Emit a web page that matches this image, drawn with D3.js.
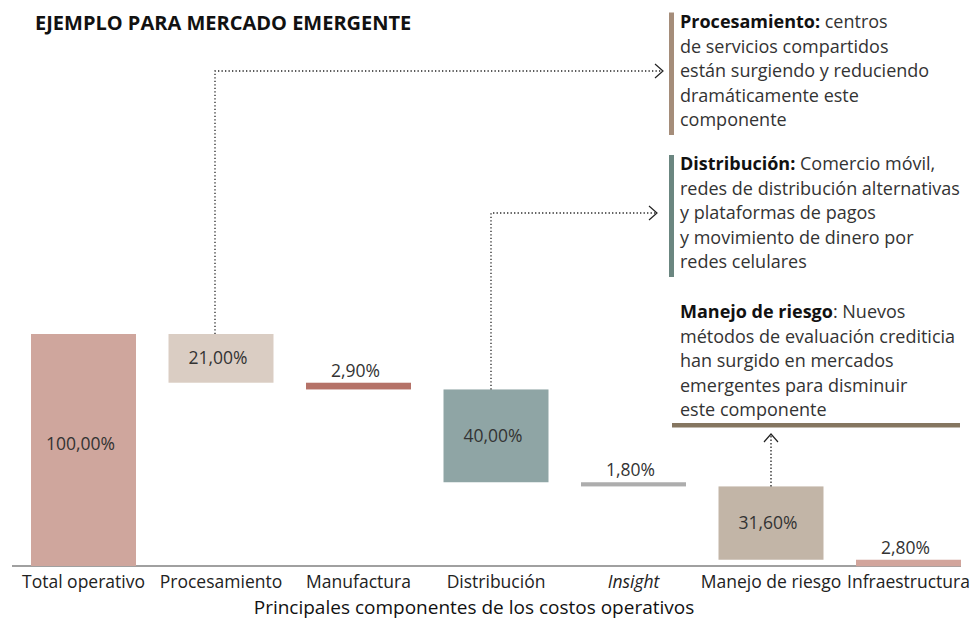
<!DOCTYPE html>
<html>
<head>
<meta charset="utf-8">
<script src="https://cdn.jsdelivr.net/npm/d3@7"></script>
<style>
  body { margin: 0; background: #fff; }
  text { font-family: "Open Sans", sans-serif; }
</style>
</head>
<body>
<div id="chart"></div>
<script>
// data
var categories = ["Total operativo", "Procesamiento", "Manufactura", "Distribución", "Insight", "Manejo de riesgo", "Infraestructura"];
var values = [100, 21.0, 2.9, 40.0, 1.8, 31.6, 2.8];
var barColors = ["#cfa69d", "#dacdc3", "#b57268", "#8fa5a5", "#adadad", "#c2b5a7", "#d2a59c"];

var notaProcesamiento = ["Procesamiento:", " centros", "de servicios compartidos", "están surgiendo y reduciendo", "dramáticamente este", "componente"];
var notaDistribucion = ["Distribución:", " Comercio móvil,", "redes de distribución alternativas", "y plataformas de pagos", "y movimiento de dinero por", "redes celulares"];
var notaRiesgo = ["Manejo de riesgo", ": Nuevos", "métodos de evaluación crediticia", "han surgido en mercados", "emergentes para disminuir", "este componente"];

var svgWidth = 975;
var svgHeight = 619;

var svg = d3.select("#chart")
  .append("svg")
  .attr("width", svgWidth)
  .attr("height", svgHeight);

// waterfall steps
var running = 0;
var bars = categories.map(function(c, i) {
  var b;
  if (i === 0) {
    b = { cat: c, v: values[i], top: values[i], bottom: 0 };
    running = values[i];
  } else {
    b = { cat: c, v: values[i], top: running, bottom: running - values[i] };
    running -= values[i];
  }
  b.color = barColors[i];
  return b;
});

var x = d3.scaleBand()
  .domain(categories)
  .range([14.75, 977.25])
  .paddingInner(0.2364)
  .paddingOuter(0.1182);

var y = d3.scaleLinear()
  .domain([0, 100])
  .range([566, 334]);

var bw = x.bandwidth();
var locale = d3.formatLocale({ decimal: ",", thousands: ".", grouping: [3], currency: ["", "€"] });
var fmt = locale.format(".2f");

// title
svg.append("text")
  .attr("x", 35)
  .attr("y", 30)
  .attr("font-size", "20px")
  .attr("font-weight", "bold")
  .attr("fill", "#111")
  .text("EJEMPLO PARA MERCADO EMERGENTE");

// axis line
svg.append("line")
  .attr("x1", 12)
  .attr("x2", x(categories[categories.length - 1]) + bw)
  .attr("y1", y(0))
  .attr("y2", y(0))
  .attr("stroke", "#808080")
  .attr("stroke-width", 1.6);

// bars
svg.selectAll("rect.bar")
  .data(bars)
  .enter()
  .append("rect")
  .attr("class", "bar")
  .attr("x", d => x(d.cat))
  .attr("width", bw)
  .attr("y", d => y(d.top))
  .attr("height", d => y(d.bottom) - y(d.top))
  .attr("fill", d => d.color);

// value labels
svg.selectAll("text.val")
  .data(bars)
  .enter()
  .append("text")
  .attr("class", "val")
  .attr("x", d => x(d.cat) + bw / 2 - 3)
  .attr("y", function(d) {
    var h = y(d.bottom) - y(d.top);
    if (d.v === 100) return (y(d.top) + y(d.bottom)) / 2;
    return h > 30 ? (y(d.top) + y(d.bottom)) / 2 + 6 : y(d.top) - 6;
  })
  .attr("text-anchor", "middle")
  .attr("font-size", "17.5px")
  .attr("fill", "#333")
  .text(d => fmt(d.v) + "%");

// category axis
var bottomAxis = d3.axisBottom(x).tickSize(0).tickPadding(10);
var axisG = svg.append("g")
  .attr("transform", `translate(0, ${y(0)})`)
  .call(bottomAxis);
axisG.select(".domain").remove();
axisG.selectAll("text")
  .attr("font-family", "Open Sans, sans-serif")
  .attr("font-size", "17.5px")
  .attr("fill", "#222")
  .attr("font-style", d => d === "Insight" ? "italic" : "normal");

svg.append("text")
  .attr("x", 474)
  .attr("y", 614)
  .attr("text-anchor", "middle")
  .attr("font-size", "19px")
  .attr("fill", "#111")
  .text("Principales componentes de los costos operativos");

// notes
var lineH = 24.5;
function drawNote(lines, x0, y0) {
  var t = svg.append("text")
    .attr("x", x0)
    .attr("y", y0)
    .attr("font-size", "18px")
    .attr("fill", "#333");
  var first = t.append("tspan").attr("x", x0).attr("y", y0);
  first.append("tspan").attr("font-weight", "bold").attr("fill", "#111").text(lines[0]);
  first.append("tspan").text(lines[1]);
  lines.slice(2).forEach(function(l, i) {
    t.append("tspan").attr("x", x0).attr("y", y0 + (i + 1) * lineH).text(l);
  });
}

var noteX = 680;
var procY = 28, distY = 170, riesgoY = 318;

svg.append("rect").attr("x", 669).attr("y", 12.5).attr("width", 5).attr("height", 122.5).attr("fill", "#a58d7a");
svg.append("rect").attr("x", 669).attr("y", 155).attr("width", 5).attr("height", 122).attr("fill", "#6b8680");
svg.append("rect").attr("x", 672).attr("y", 423).attr("width", 288).attr("height", 4.5).attr("fill", "#857660");

drawNote(notaProcesamiento, noteX, procY);
drawNote(notaDistribucion, noteX, distY);
drawNote(notaRiesgo, noteX, riesgoY);

// connectors
function connector(pts, head) {
  svg.append("path")
    .attr("d", d3.line()(pts))
    .attr("fill", "none")
    .attr("stroke", "#222")
    .attr("stroke-width", 1.3)
    .attr("stroke-dasharray", "1.3,2.2");
  svg.append("path")
    .attr("d", d3.line()(head))
    .attr("fill", "none")
    .attr("stroke", "#222")
    .attr("stroke-width", 1.2);
}

var bProc = bars[1], bDist = bars[3], bRiesgo = bars[5];
var pxProc = x(bProc.cat) + bw / 2 - 6;
var pyProc = procY - 6 + 2 * lineH;
connector([[pxProc, y(bProc.top)], [pxProc, pyProc], [662, pyProc]],
  [[655, pyProc - 7], [663, pyProc], [655, pyProc + 7]]);

var pxDist = x(bDist.cat) + bw / 2 - 5;
var pyDist = distY - 6 + 2 * lineH;
connector([[pxDist, y(bDist.top)], [pxDist, pyDist], [656, pyDist]],
  [[649, pyDist - 7], [657, pyDist], [649, pyDist + 7]]);

var pxRiesgo = x(bRiesgo.cat) + bw / 2;
connector([[pxRiesgo, y(bRiesgo.top)], [pxRiesgo, 435]],
  [[pxRiesgo - 7, 442], [pxRiesgo, 434], [pxRiesgo + 7, 442]]);
</script>
</body>
</html>
